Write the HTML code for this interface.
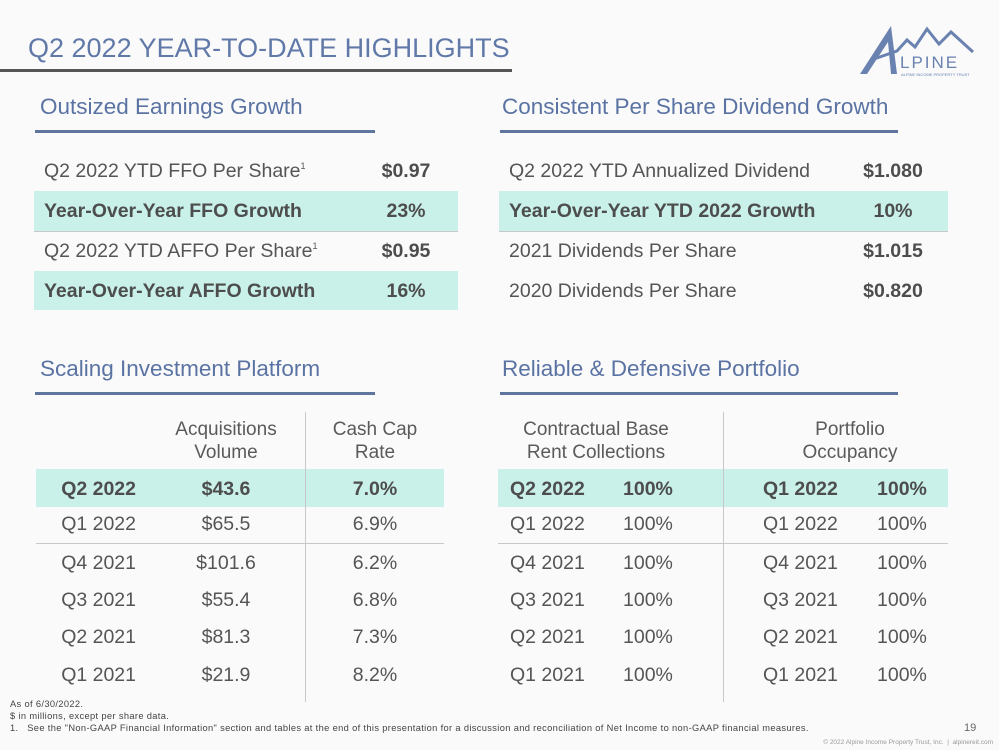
<!DOCTYPE html>
<html><head><meta charset="utf-8"><style>
body{margin:0;width:999px;height:750px;overflow:hidden;background:#fafafa;font-family:"Liberation Sans",sans-serif;color:#555;position:relative}
.a{position:absolute;white-space:nowrap}
.t{font-size:19.5px;line-height:20px;transform:translateY(-10px)}
.t sup{font-size:9px;line-height:0;vertical-align:8px}
.b{font-weight:bold;color:#4d4d4d}
.c{transform:translate(-50%,-10px)}
.r{transform:translate(-100%,-10px)}
.hl{position:absolute;background:#c9f1e9}
.h{font-size:22.5px;color:#5a73a3}
.ul{position:absolute;height:3px;background:#5f759e}
.ln{position:absolute;background:#c8c8c8}
.hd{font-size:19px;line-height:23px;text-align:center;color:#5a5a5a}
.fn{font-size:9.3px;color:#444;letter-spacing:0.35px}
</style></head><body>
<div class="a" style="left:28px;top:33px;font-size:27px;color:#6079a8">Q2 2022 YEAR-TO-DATE HIGHLIGHTS</div>
<div class="a" style="left:0;top:69px;width:512px;height:3px;background:#555"></div>
<svg class="a" style="left:855px;top:22px" width="135" height="58" viewBox="0 0 135 58">
<path d="M5 52 L36 4 L42 52 L36 52 L33 20 L12 52Z" fill="#6a82b0"/>
<path d="M16 38 L42 29 L52 18 L60 25 L72 7 L84 22 L96 10 L118 30" fill="none" stroke="#6a82b0" stroke-width="3"/>
<text x="45" y="46" font-size="17" fill="#6a82b0" font-family="Liberation Sans" letter-spacing="2">LPINE</text>
<text x="46" y="54" font-size="4" fill="#6a82b0" font-family="Liberation Sans">ALPINE INCOME PROPERTY TRUST</text>
</svg>

<div class="a h" style="left:40px;top:94px">Outsized Earnings Growth</div>
<div class="ul" style="left:35px;top:130px;width:340px"></div>
<div class="a h" style="left:502px;top:94px">Consistent Per Share Dividend Growth</div>
<div class="ul" style="left:500px;top:130px;width:398px"></div>

<div class="hl" style="left:34px;top:191px;width:424px;height:40px"></div>
<div class="hl" style="left:34px;top:271px;width:424px;height:39px"></div>
<div class="ln" style="left:34px;top:231px;width:424px;height:1px"></div>
<div class="a t" style="left:44px;top:171px">Q2 2022 YTD FFO Per Share<sup>1</sup></div>
<div class="a t b c" style="left:406px;top:171px">$0.97</div>
<div class="a t b" style="left:44px;top:211px">Year-Over-Year FFO Growth</div>
<div class="a t b c" style="left:406px;top:211px">23%</div>
<div class="a t" style="left:44px;top:251px">Q2 2022 YTD AFFO Per Share<sup>1</sup></div>
<div class="a t b c" style="left:406px;top:251px">$0.95</div>
<div class="a t b" style="left:44px;top:291px">Year-Over-Year AFFO Growth</div>
<div class="a t b c" style="left:406px;top:291px">16%</div>

<div class="hl" style="left:499px;top:191px;width:449px;height:40px"></div>
<div class="ln" style="left:499px;top:231px;width:449px;height:1px"></div>
<div class="a t" style="left:509px;top:171px">Q2 2022 YTD Annualized Dividend</div>
<div class="a t b c" style="left:893px;top:171px">$1.080</div>
<div class="a t b" style="left:509px;top:211px">Year-Over-Year YTD 2022 Growth</div>
<div class="a t b c" style="left:893px;top:211px">10%</div>
<div class="a t" style="left:509px;top:251px">2021 Dividends Per Share</div>
<div class="a t b c" style="left:893px;top:251px">$1.015</div>
<div class="a t" style="left:509px;top:291px">2020 Dividends Per Share</div>
<div class="a t b c" style="left:893px;top:291px">$0.820</div>

<div class="a h" style="left:40px;top:356px">Scaling Investment Platform</div>
<div class="ul" style="left:35px;top:392px;width:340px"></div>
<div class="a h" style="left:502px;top:356px">Reliable &amp; Defensive Portfolio</div>
<div class="ul" style="left:500px;top:392px;width:398px"></div>

<div class="hl" style="left:36px;top:469px;width:408px;height:38px"></div>
<div class="hl" style="left:498px;top:469px;width:450px;height:38px"></div>
<div class="ln" style="left:305px;top:412px;width:1px;height:290px"></div>
<div class="ln" style="left:723px;top:412px;width:1px;height:290px"></div>
<div class="ln" style="left:36px;top:543px;width:408px;height:1px"></div>
<div class="ln" style="left:498px;top:543px;width:450px;height:1px"></div>

<div class="a hd" style="left:226px;top:418px;transform:translateX(-50%)">Acquisitions<br>Volume</div>
<div class="a hd" style="left:375px;top:418px;transform:translateX(-50%)">Cash Cap<br>Rate</div>
<div class="a hd" style="left:596px;top:418px;transform:translateX(-50%)">Contractual Base<br>Rent Collections</div>
<div class="a hd" style="left:850px;top:418px;transform:translateX(-50%)">Portfolio<br>Occupancy</div>

<div id="rows"></div>
<script>
const quarters=["Q2 2022","Q1 2022","Q4 2021","Q3 2021","Q2 2021","Q1 2021"];
const acqVolume=["$43.6","$65.5","$101.6","$55.4","$81.3","$21.9"];
const capRate=["7.0%","6.9%","6.2%","6.8%","7.3%","8.2%"];
const rentCollections=["100%","100%","100%","100%","100%","100%"];
const occQuarters=["Q1 2022","Q1 2022","Q4 2021","Q3 2021","Q2 2021","Q1 2021"];
const occupancy=["100%","100%","100%","100%","100%","100%"];
const rowY=[489,524,563,600,637,675];
const host=document.getElementById('rows');
function add(txt,x,y,cls,bold,name){
  const d=document.createElement('div');
  d.className='a t '+cls+(bold?' b':'');
  d.style.left=x+'px';d.style.top=y+'px';d.textContent=txt;
  
  
  host.appendChild(d);
}
quarters.forEach((q,i)=>{
  const b=i===0,y=rowY[i];
  add(q,136,y,'r',b,'acq-quarter');
  add(acqVolume[i],226,y,'c',b,'acq-volume');
  add(capRate[i],375,y,'c',b,'cap-rate');
  add(q,510,y,'',b,'rent-quarter');
  add(rentCollections[i],623,y,'',b,'rent-collection');
  add(occQuarters[i],763,y,'',b,'occupancy-quarter');
  add(occupancy[i],877,y,'',b,'occupancy-value');
});
</script>

<div class="a fn" style="left:10px;top:699px">As of 6/30/2022.</div>
<div class="a fn" style="left:10px;top:711px">$ in millions, except per share data.</div>
<div class="a fn" style="left:10px;top:723px">1.&nbsp;&nbsp;&nbsp;See the "Non-GAAP Financial Information" section and tables at the end of this presentation for a discussion and reconciliation of Net Income to non-GAAP financial measures.</div>
<div class="a" style="left:964px;top:722px;font-size:11px;color:#666">19</div>
<div class="a" style="right:6px;top:739px;font-size:6.5px;color:#999">© 2022 Alpine Income Property Trust, Inc. &nbsp;|&nbsp; alpinereit.com</div>
</body></html>
